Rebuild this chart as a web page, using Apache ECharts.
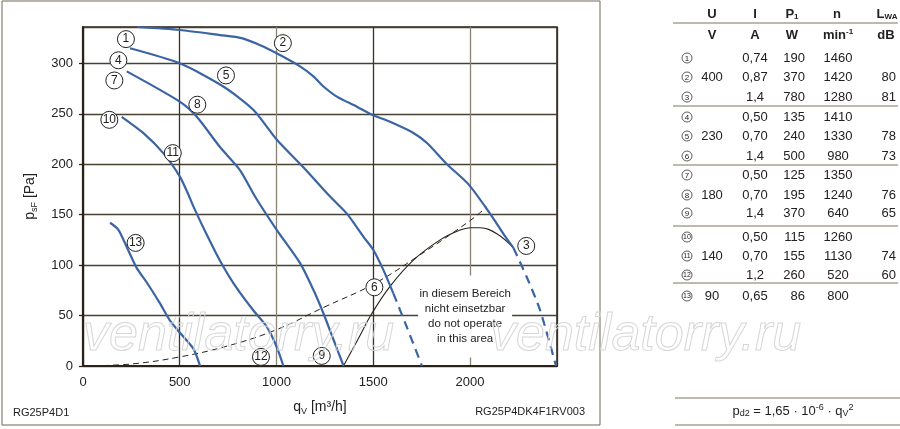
<!DOCTYPE html>
<html><head><meta charset="utf-8">
<script src="https://cdn.jsdelivr.net/npm/echarts@6/dist/echarts.min.js"></script>
<style>html,body{margin:0;padding:0;background:#fff}#c{width:900px;height:429px}</style>
</head><body><div id="c"></div>
<script>
// ---------- data ----------
const xTicks = [0, 500, 1000, 1500, 2000];
const yTicks = [0, 50, 100, 150, 200, 250, 300];
const curve123 = [[280,336],[500,333],[708,328],[820,325],[916,318],[1001,310],[1122,297],[1191,287],[1243,277],[1312,267],[1416,257],[1494,249],[1587,242],[1708,231],[1778,221],[1881,200],[1993,180],[2104,151],[2173,131],[2225,117]];
const curve3Dashed = [[2225,117],[2294,88],[2363,55],[2445,0]];
const curve456 = [[243,315],[500,300],[725,277],[880,254],[1003,224],[1139,197],[1277,168],[1364,151],[1450,128],[1501,115],[1553,95],[1604,72]];
const curve6Dashed = [[1604,72],[1673,39],[1752,0]];
const curve789 = [[226,292],[500,262],[588,247],[708,217],[812,194],[889,168],[1001,135],[1122,102],[1192,75],[1243,52],[1295,26],[1347,0]];
const curve101112 = [[200,247],[311,231],[415,211],[500,188],[540,172],[571,158],[640,130],[709,104],[778,82],[881,55],[950,39],[1001,19],[1036,0]];
const curve13 = [[140,142],[183,135],[226,118],[278,97],[329,83],[398,62],[450,45],[501,33],[571,17],[605,0]];
const systemCurve = [[0,0],[250,2],[500,9],[750,20],[1000,36],[1243,58],[1500,81],[1725,108],[2000,144],[2088,158]];
const limitCurve = [[1346,0],[1420,26],[1493,52],[1587,79],[1708,105],[1846,125],[1940,134],[2001,137],[2053,137],[2139,131],[2225,117]];
const curveLabels = [[222,324,'1'],[1033,320,'2'],[2291,119,'3'],[183,303,'4'],[739,288,'5'],[1506,78,'6'],[162,283,'7'],[591,259,'8'],[1234,10,'9'],[136,244,'10'],[464,211,'11'],[920,9,'12'],[272,122,'13']];
const areaNote = [[1975,49,'in diesem Bereich\nnicht einsetzbar\ndo not operate\nin this area']];

const tableIds = ['1','2','3','4','5','6','7','8','9','10','11','12','13'];
const colU  = ['','400','','','230','','','180','','','140','','90'];
const colI  = ['0,74','0,87','1,4','0,50','0,70','1,4','0,50','0,70','1,4','0,50','0,70','1,2','0,65'];
const colP1 = ['190','370','780','135','240','500','125','195','370','115','155','260','86'];
const colN  = ['1460','1420','1280','1410','1330','980','1350','1240','640','1260','1130','520','800'];
const colL  = ['','80','81','','78','73','','76','65','','74','60',''];

// ---------- layout / style ----------
const FONT = 'Liberation Sans';
const BLUE = '#3a64a2';
const DARK = '#2a2218';
const ROW_Y = [58,77,97,117,136,156,175,195,213,237,256,275,296];
const SEP_Y = [23,106,165,226,283];

const chart = echarts.init(document.getElementById('c'), null, {renderer:'canvas'});

function blueLine(data, dashed) {
  return {type:'line', data, showSymbol:false, smooth:0.25, silent:true,
    lineStyle:{color:BLUE, width:2.2, type: dashed ? [9,6] : 'solid'}, z:3};
}

const g = [];
// outer frame
g.push({type:'rect', shape:{x:2,y:1,width:598,height:424}, style:{fill:'none', stroke:'#6f6555', lineWidth:1}, silent:true, z:0});
// watermark
[83, 490].forEach(x => g.push({type:'text', x, y:310, z:50, silent:true,
  style:{text:'ventilatorry.ru', font:'italic 52px "'+FONT+'"', fill:'rgba(255,255,255,0)', stroke:'#d6d6d6', lineWidth:1, verticalAlign:'alphabetic', align:'left'}}));
// footers
g.push({type:'text', x:13, y:413, silent:true, style:{text:'RG25P4D1', font:'11px "'+FONT+'"', fill:'#222', align:'left', verticalAlign:'middle'}});
g.push({type:'text', x:585, y:412, silent:true, style:{text:'RG25P4DK4F1RV003', font:'11px "'+FONT+'"', fill:'#222', align:'right', verticalAlign:'middle'}});

// table
const hdrRich = {
  b:{fontFamily:FONT, fontSize:13, fontWeight:'bold', fill:'#222', color:'#222'},
  s:{fontFamily:FONT, fontSize:8, fontWeight:'bold', fill:'#222', color:'#222', padding:[6,0,0,0]},
  u:{fontFamily:FONT, fontSize:8, fontWeight:'bold', fill:'#222', color:'#222', padding:[0,0,6,0]}
};
function htxt(x, y, text) {
  g.push({type:'text', x, y, silent:true, style:{text, rich:hdrRich, align:'center', verticalAlign:'middle', font:'bold 13px "'+FONT+'"', fill:'#222'}});
}
htxt(712,14,'{b|U}'); htxt(755,14,'{b|I}'); htxt(792,14,'{b|P}{s|1}'); htxt(837,14,'{b|n}'); htxt(887,14,'{b|L}{s|WA}');
htxt(712,35,'{b|V}'); htxt(755,35,'{b|A}'); htxt(792,35,'{b|W}'); htxt(838,35,'{b|min}{u|-1}'); htxt(886,35,'{b|dB}');
SEP_Y.forEach(y => g.push({type:'line', shape:{x1:673,y1:y,x2:898,y2:y}, style:{stroke:'#7d7363', lineWidth:1}, silent:true}));
function vtxt(x, y, text, align) {
  g.push({type:'text', x, y, silent:true, style:{text, font:'13px "'+FONT+'"', fill:'#222', align, verticalAlign:'middle'}});
}
tableIds.forEach((id, i) => {
  const y = ROW_Y[i];
  g.push({type:'circle', shape:{cx:687, cy:y, r:5}, style:{fill:'#fff', stroke:'#333', lineWidth:0.8}, silent:true});
  g.push({type:'text', x:687, y:y+0.5, silent:true, style:{text:id, font:(id.length>1?'7px':'8px')+' "'+FONT+'"', fill:'#222', align:'center', verticalAlign:'middle'}});
  if (colU[i]) vtxt(712, y, colU[i], 'center');
  vtxt(755, y, colI[i], 'center');
  vtxt(805, y, colP1[i], 'right');
  vtxt(838, y, colN[i], 'center');
  if (colL[i]) vtxt(896, y, colL[i], 'right');
});
// formula
g.push({type:'line', shape:{x1:675,y1:398,x2:900,y2:398}, style:{stroke:'#7d7363', lineWidth:1}, silent:true});
g.push({type:'line', shape:{x1:675,y1:425,x2:900,y2:425}, style:{stroke:'#7d7363', lineWidth:1}, silent:true});
const fRich = {
  a:{fontFamily:FONT, fontSize:13, fill:'#222', color:'#222'},
  s:{fontFamily:FONT, fontSize:9, fill:'#222', color:'#222', padding:[6,0,0,0]},
  u:{fontFamily:FONT, fontSize:9, fill:'#222', color:'#222', padding:[0,0,7,0]}
};
g.push({type:'text', x:793, y:411, silent:true, style:{text:'{a|p}{s|d2}{a| = 1,65 · 10}{u|-6}{a| · q}{s|V}{u|2}', rich:fRich, align:'center', verticalAlign:'middle', font:'13px "'+FONT+'"'}});

const option = {
  animation:false,
  backgroundColor:'#fff',
  textStyle:{fontFamily:FONT},
  grid:{left:83, right:343, top:27, bottom:63, show:true, borderColor:DARK, borderWidth:1.5, backgroundColor:'transparent'},
  xAxis:{type:'value', min:xTicks[0], max:2450, interval:xTicks[1]-xTicks[0],
    axisLine:{show:true, onZero:false, lineStyle:{color:DARK, width:2.2}},
    axisTick:{show:false},
    axisLabel:{color:'#222', fontSize:13, margin:10, showMaxLabel:false, fontFamily:FONT,
      formatter:v => xTicks.includes(v) ? String(v) : ''},
    splitLine:{show:true, lineStyle:{color:['#3b3222','#3b3222','#8c8273','#3b3222','#8c8273','#3b3222'], width:1.3}},
    name:'{a|q}{s|V}{a| [m³/h]}', nameLocation:'middle', nameGap:33,
    nameTextStyle:{rich:{a:{fontSize:14, color:'#222', fontFamily:FONT}, s:{fontSize:9, color:'#222', fontFamily:FONT, padding:[8,0,0,0]}}}
  },
  yAxis:{type:'value', min:yTicks[0], max:336, interval:yTicks[1]-yTicks[0],
    axisLine:{show:true, lineStyle:{color:DARK, width:2.2}},
    axisTick:{show:true, length:4, lineStyle:{color:DARK, width:1.3}},
    axisLabel:{color:'#222', fontSize:13, margin:10, showMaxLabel:false, fontFamily:FONT,
      formatter:v => yTicks.includes(v) ? String(v) : ''},
    splitLine:{show:true, lineStyle:{color:'#4a4030', width:1.3}},
    name:'{a|p}{s|sF}{a| [Pa]}', nameLocation:'middle', nameGap:44, nameRotate:90,
    nameTextStyle:{rich:{a:{fontSize:14, color:'#222', fontFamily:FONT}, s:{fontSize:9, color:'#222', fontFamily:FONT, padding:[8,0,0,0]}}}
  },
  series:[
    {type:'scatter', data:areaNote, symbol:'rect', symbolSize:[94,82], silent:true, z:1,
      itemStyle:{color:'#fff', opacity:1},
      label:{show:true, position:'inside', formatter:p => p.value[2], color:'#222', fontSize:11.5, lineHeight:15, fontFamily:FONT}},
    {type:'line', data:systemCurve, showSymbol:false, smooth:0.4, silent:true, lineStyle:{color:DARK, width:1, type:[6,4]}, z:2},
    {type:'line', data:limitCurve, showSymbol:false, smooth:0.4, silent:true, lineStyle:{color:DARK, width:1.1}, z:2},
    blueLine(curve123), blueLine(curve3Dashed, true),
    blueLine(curve456), blueLine(curve6Dashed, true),
    blueLine(curve789), blueLine(curve101112), blueLine(curve13),
    {type:'scatter', data:curveLabels, symbol:'circle', symbolSize:17, silent:true, z:10,
      itemStyle:{color:'#fff', borderColor:'#222', borderWidth:1, opacity:1},
      label:{show:true, position:'inside', formatter:p => p.value[2], color:'#222', fontFamily:FONT, fontSize:12}}
  ],
  graphic:{elements:g}
};
chart.setOption(option);
</script>
</body></html>
